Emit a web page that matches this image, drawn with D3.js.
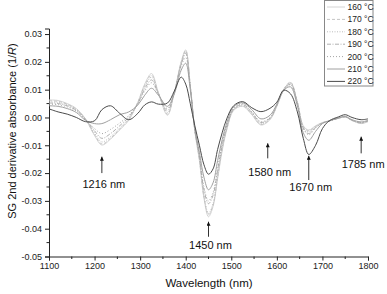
<!DOCTYPE html>
<html>
<head>
<meta charset="utf-8">
<script src="https://cdn.jsdelivr.net/npm/d3@7"></script>
<style>
  body { margin: 0; background: #fff; }
  svg { display: block; font-family: Arial, "Liberation Sans", sans-serif; }
</style>
</head>
<body>
<svg id="drawing_region"></svg>
<script>
// wavelength grid (nm)
const wavelengths = [1100,1120,1140,1160,1180,1200,1216,1235,1255,1275,1295,1310,1325,1340,1360,1375,1390,1400,1410,1420,1430,1440,1450,1460,1470,1480,1490,1505,1525,1545,1565,1585,1600,1615,1630,1645,1658,1670,1685,1700,1715,1735,1750,1765,1785,1800];

// SG 2nd derivative absorbance, x 1e-3
const s160 = [6.3,6.1,5.0,3.2,-0.5,-6.5,-9.9,-7.8,-4.5,-1.0,5.5,12.0,15.8,9.0,0.8,9.0,20.0,24.3,11.0,-5.0,-15.5,-29.0,-35.7,-32.0,-22.0,-12.0,-4.5,2.5,4.0,1.0,-2.7,-0.8,4.0,10.0,12.5,5.5,-3.0,-4.5,-3.0,-1.8,-1.2,-0.2,0.3,-1.0,-2.2,-1.5];
const s170 = [6.0,5.8,4.8,3.0,-0.6,-6.2,-9.5,-7.5,-4.2,-0.6,5.5,11.5,15.2,8.8,1.2,9.0,19.8,24.0,11.5,-4.5,-15.0,-28.5,-35.0,-31.5,-21.5,-11.5,-4.2,2.7,4.2,1.2,-2.5,-0.6,4.2,10.2,12.7,5.6,-3.2,-4.8,-3.2,-1.9,-1.2,-0.3,0.2,-1.1,-2.1,-1.4];
const s180 = [5.6,5.4,4.5,2.8,-0.6,-5.6,-8.8,-6.9,-3.8,-0.3,5.2,11.0,14.5,8.7,1.8,9.0,19.5,23.5,11.5,-4.5,-14.5,-28.0,-34.5,-31.0,-21.0,-11.0,-4.0,2.9,4.5,1.5,-2.2,-0.4,4.3,10.0,12.4,5.5,-3.5,-5.2,-3.4,-2.0,-1.3,-0.3,0.2,-1.1,-2.0,-1.3];
const s190 = [5.2,5.0,4.2,2.6,-0.7,-4.8,-7.5,-5.8,-3.0,0.2,5.0,10.3,13.5,8.5,2.5,9.0,19.0,23.0,11.5,-4.5,-14.0,-26.0,-31.0,-28.0,-19.0,-10.0,-3.5,3.0,4.7,1.8,-1.8,-0.2,4.4,9.8,12.0,5.2,-3.8,-5.8,-3.6,-2.0,-1.3,-0.3,0.2,-1.0,-1.9,-1.2];
const s200 = [4.8,4.6,3.8,2.3,-0.8,-4.0,-5.8,-4.3,-2.0,0.7,5.0,9.5,12.5,8.5,3.2,9.0,18.5,21.5,11.0,-4.5,-13.5,-25.0,-30.0,-27.0,-18.5,-9.5,-3.0,3.3,5.0,2.0,-1.5,0.0,4.5,9.7,11.8,5.0,-4.0,-6.2,-3.8,-2.0,-1.3,-0.3,0.2,-1.0,-1.8,-1.2];
const s210 = [4.2,4.0,3.2,1.8,-1.0,-2.2,-2.2,-0.8,1.0,2.0,4.5,8.0,10.5,8.0,4.0,8.5,17.0,19.5,10.0,-4.0,-12.5,-21.5,-26.0,-23.5,-15.5,-8.0,-2.0,3.8,5.3,2.8,-0.5,0.8,4.8,9.8,11.0,4.2,-5.5,-8.2,-5.0,-2.2,-1.2,-0.2,0.4,-0.8,-1.6,-1.0];
const s220 = [3.1,2.0,1.2,0.0,-1.5,-1.2,2.8,4.2,1.5,-0.8,1.5,4.5,5.6,4.8,5.2,9.5,14.5,12.0,5.0,-3.0,-10.0,-17.0,-20.4,-18.5,-11.5,-5.5,-0.5,4.2,5.7,3.5,2.1,3.3,5.5,9.8,8.5,2.0,-7.5,-13.3,-10.0,-4.0,-1.2,0.2,1.0,0.0,-0.8,-0.5];

const seriesNames = ['160 °C','170 °C','180 °C','190 °C','200 °C','210 °C','220 °C'];
const seriesValues = [s160, s170, s180, s190, s200, s210, s220];

// annotated bands
const bandWl = [1216, 1450, 1580, 1670, 1785];
const bandTip = [-0.0141, -0.0375, -0.0093, -0.0138, -0.0069];
const bandTail = [-0.0200, -0.0429, -0.0147, -0.0225, -0.0129];
const bandText = [-0.0239, -0.0459, -0.0195, -0.0251, -0.0168];

const xTicks = [1100,1200,1300,1400,1500,1600,1700,1800];
const yTicks = [0.03,0.02,0.01,0.00,-0.01,-0.02,-0.03,-0.04,-0.05];

const styles = [
    { color: '#d4d4d4', dash: null },
    { color: '#c4c4c4', dash: '3,2' },
    { color: '#bcbcbc', dash: '1,1.5' },
    { color: '#b0b0b0', dash: '4,1.5,1,1.5' },
    { color: '#a4a4a4', dash: '1,2' },
    { color: '#a0a0a0', dash: null },
    { color: '#4a4a4a', dash: null }
];

const width = 387, height = 294;
const svg = d3.select('#drawing_region')
    .attr('width', width)
    .attr('height', height);

const xscale = d3.scaleLinear().domain([1100, 1800]).range([49, 368]);
const yscale = d3.scaleLinear().domain([-0.05, 0.032]).range([256.5, 28.5]);

// minor ticks
const xMinor = d3.range(1150, 1800, 100);
const yMinor = d3.range(-0.045, 0.031, 0.01);

// axes
const xaxis = d3.axisBottom(xscale).tickValues(xTicks).tickSize(4).tickPadding(2).tickFormat(d3.format('d'));
const yaxis = d3.axisLeft(yscale).tickValues(yTicks).tickSize(4).tickPadding(3).tickFormat(d => (Math.abs(d) < 1e-9 ? 0 : d).toFixed(2));

const xg = svg.append('g')
    .attr('transform', `translate(0, ${yscale(-0.05)})`)
    .call(xaxis);
xg.selectAll('.tick').filter(d => false);
xg.selectAll('.minor')
    .data(xMinor)
    .enter()
    .append('line')
    .attr('x1', d => xscale(d)).attr('x2', d => xscale(d))
    .attr('y1', 0).attr('y2', 2.5)
    .attr('stroke', '#222');

const yg = svg.append('g')
    .attr('transform', `translate(${xscale(1100)}, 0)`)
    .call(yaxis);
yg.selectAll('.minor')
    .data(yMinor)
    .enter()
    .append('line')
    .attr('x1', 0).attr('x2', -2.5)
    .attr('y1', d => yscale(d)).attr('y2', d => yscale(d))
    .attr('stroke', '#222');

[xg, yg].forEach(g => {
    g.select('.domain').attr('stroke', '#222');
    g.selectAll('.tick line').attr('stroke', '#222');
    g.selectAll('.tick text').attr('font-size', 9).attr('fill', '#222')
        .attr('font-family', 'Arial, "Liberation Sans", sans-serif');
});

// axis titles
svg.append('text')
    .attr('x', 209)
    .attr('y', 287)
    .attr('text-anchor', 'middle')
    .attr('font-size', 11.5)
    .attr('fill', '#111')
    .text('Wavelength (nm)');

const ytitle = svg.append('text')
    .attr('transform', 'translate(16, 131) rotate(-90)')
    .attr('text-anchor', 'middle')
    .attr('font-size', 11)
    .attr('fill', '#111');
ytitle.append('tspan').text('SG 2nd derivative absorbance (1/');
ytitle.append('tspan').attr('font-style', 'italic').text('R');
ytitle.append('tspan').text(')');

// spectra
const line = d3.line()
    .x((d, i) => xscale(wavelengths[i]))
    .y(d => yscale(d / 1000))
    .curve(d3.curveCatmullRom.alpha(0.5));

svg.append('g')
    .selectAll('path')
    .data(seriesValues)
    .enter()
    .append('path')
    .attr('d', d => line(d))
    .attr('fill', 'none')
    .attr('stroke', (d, i) => styles[i].color)
    .attr('stroke-width', 1)
    .attr('stroke-dasharray', (d, i) => styles[i].dash);

// arrows + labels
svg.append('defs').append('marker')
    .attr('id', 'arrow')
    .attr('viewBox', '0 0 10 10')
    .attr('refX', 10).attr('refY', 5)
    .attr('markerWidth', 5).attr('markerHeight', 4)
    .attr('markerUnits', 'userSpaceOnUse')
    .attr('orient', 'auto')
    .append('path')
    .attr('d', 'M0,0L10,5L0,10Z')
    .attr('fill', '#111');

const ann = svg.append('g');
bandWl.forEach((w, i) => {
    ann.append('line')
        .attr('x1', xscale(w)).attr('x2', xscale(w))
        .attr('y1', yscale(bandTail[i])).attr('y2', yscale(bandTip[i]))
        .attr('stroke', '#333')
        .attr('stroke-width', 1)
        .attr('marker-end', 'url(#arrow)');
    ann.append('text')
        .attr('x', xscale(w) + 2)
        .attr('y', yscale(bandText[i]))
        .attr('dy', '0.35em')
        .attr('text-anchor', 'middle')
        .attr('font-size', 11)
        .attr('fill', '#111')
        .text(`${w} nm`);
});

// legend
const legend = svg.append('g');
legend.append('rect')
    .attr('x', 324.5).attr('y', 0.5)
    .attr('width', 48.5).attr('height', 85.5)
    .attr('fill', '#fff')
    .attr('stroke', '#888');
seriesNames.forEach((name, i) => {
    const ly = 7 + i * 12.4;
    legend.append('line')
        .attr('x1', 327).attr('x2', 345)
        .attr('y1', ly).attr('y2', ly)
        .attr('stroke', styles[i].color)
        .attr('stroke-dasharray', styles[i].dash);
    legend.append('text')
        .attr('x', 347.5).attr('y', ly)
        .attr('dy', '0.35em')
        .attr('font-size', 8.5)
        .attr('fill', '#222')
        .text(name);
});
</script>
</body>
</html>
